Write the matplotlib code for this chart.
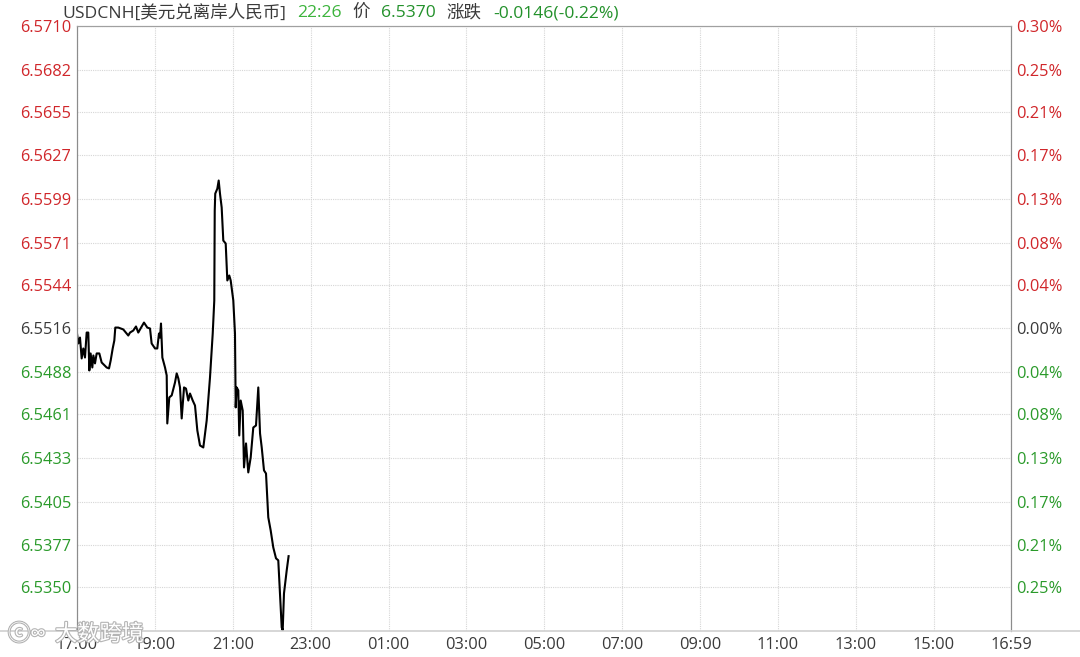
import numpy as np
import matplotlib.pyplot as plt
import matplotlib.patheffects as pe
from matplotlib.lines import Line2D

plt.rcParams['font.family'] = ['Open Sans', 'Noto Sans CJK SC', 'DejaVu Sans']

# minutes after 17:00, price
minutes = [0, 2, 4.6, 7.2, 9.7, 12.3, 14.9, 17.4, 19, 21, 23.6, 25.2, 27.7, 30.3, 34.4,
           38, 45.7, 49.3, 51.9, 55, 57.5, 59, 63.6, 71.3, 79, 81.7, 86.7, 90.9, 94.4,
           99.7, 103.2, 108.3, 112.5, 115, 120.2, 123.7, 126.3, 127.9, 129.4, 131.5,
           135.6, 138.2, 139.1, 142.2, 145.9, 151, 153.6, 156.1, 158.7, 161.3, 164.9,
           167.9, 171.5, 174.1, 178.3, 181.8, 185.4, 189.5, 194.6, 199.8, 204.9, 209.1,
           211.5, 212.2, 213, 216.2, 218.3, 220.3, 222.9, 225.4, 229.1, 231.6, 234.6,
           236.8, 240.8, 243.4, 244.5, 246, 248.5, 250, 252.2, 255.3, 257.3, 260.4,
           263.9, 267.6, 271.6, 275.8, 279.3, 282, 284.6, 288.1, 291.2, 294.7, 298.4,
           302.4, 306.6, 310.1, 315.4, 316.9, 318.9, 323.1, 326]
price = [6.55128, 6.55064, 6.55102, 6.54968, 6.55032, 6.54974, 6.55134, 6.55134, 6.54891,
         6.55000, 6.54910, 6.54987, 6.54936, 6.55000, 6.55000, 6.54942, 6.54910, 6.54904,
         6.54955, 6.55032, 6.55083, 6.55166, 6.55166, 6.55154, 6.55115, 6.55134, 6.55147,
         6.55173, 6.55134, 6.55173, 6.55198, 6.55166, 6.55160, 6.55064, 6.55032, 6.55032,
         6.55128, 6.55102, 6.55192, 6.54974, 6.54910, 6.54859, 6.54551, 6.54718, 6.54731,
         6.54814, 6.54872, 6.54840, 6.54782, 6.54583, 6.54782, 6.54775, 6.54698, 6.54743,
         6.54698, 6.54666, 6.54506, 6.54410, 6.54397, 6.54570, 6.54846, 6.55128, 6.55339,
         6.55916, 6.56025, 6.56057, 6.56109, 6.56025, 6.55936, 6.55724, 6.55705, 6.55468,
         6.55500, 6.55468, 6.55340, 6.55128, 6.54654, 6.54782, 6.54763, 6.54474, 6.54698,
         6.54634, 6.54269, 6.54423, 6.54237, 6.54333, 6.54525, 6.54538, 6.54782, 6.54487,
         6.54397, 6.54250, 6.54230, 6.53949, 6.53865, 6.53756, 6.53686, 6.53673, 6.53243,
         6.53224, 6.53461, 6.53609, 6.53700]

left_labels = ['6.5710', '6.5682', '6.5655', '6.5627', '6.5599', '6.5571', '6.5544',
               '6.5516', '6.5488', '6.5461', '6.5433', '6.5405', '6.5377', '6.5350']
right_labels = ['0.30%', '0.25%', '0.21%', '0.17%', '0.13%', '0.08%', '0.04%',
                '0.00%', '0.04%', '0.08%', '0.13%', '0.17%', '0.21%', '0.25%']
x_ticks = [0, 120, 240, 360, 480, 600, 720, 840, 960, 1080, 1200, 1320, 1439]
x_labels = ['17:00', '19:00', '21:00', '23:00', '01:00', '03:00', '05:00', '07:00',
            '09:00', '11:00', '13:00', '15:00', '16:59']

base = 6.5516
red = '#d0262a'
green = '#2a9a2a'
dark = '#3a3a3a'
fs = 11.8

fig = plt.figure(figsize=(10.8, 6.57), dpi=100)
ax = fig.add_axes([77 / 1080, 26 / 657, 934 / 1080, 605 / 657])
ax.plot(minutes, price, color='black', lw=1.5)
ax.set_xlim(0, 1439)
ax.set_ylim(6.5322, 6.5710)

yvals = [float(s) for s in left_labels]
ax.set_yticks(yvals)
ax.set_yticklabels(left_labels, fontsize=fs)
ax.set_xticks(x_ticks)
ax.set_xticklabels(x_labels, fontsize=fs, color=dark)
ax.tick_params(length=0, pad=4)
ax.grid(True, color='#d6d6d6', lw=0.8, ls=(0, (1, 1)))

for v, lab in zip(yvals, ax.get_yticklabels()):
    lab.set_color(red if v > base + 1e-4 else (green if v < base - 1e-4 else dark))

ax2 = ax.twinx()
ax2.set_ylim(ax.get_ylim())
ax2.set_yticks(yvals)
ax2.set_yticklabels(right_labels, fontsize=fs)
ax2.tick_params(length=0, pad=4)
for v, lab in zip(yvals, ax2.get_yticklabels()):
    lab.set_color(red if v > base + 1e-4 else (green if v < base - 1e-4 else dark))

for a in (ax, ax2):
    a.spines['bottom'].set_visible(False)
    a.spines['left'].set_color('#8c8c8c')
    a.spines['right'].set_color('#8c8c8c')
    a.spines['top'].set_color('#a0a0a0')

# bottom baseline across the full width
fig.add_artist(Line2D([0, 1], [26 / 657, 26 / 657], color='#d0d0d0', lw=1.2))

# title pieces
pieces = [('USDCNH[美元兑离岸人民币]', dark), ('22:26', '#3cb43c'), ('价', dark),
          ('6.5370', '#23912b'), ('涨跌', dark), ('-0.0146(-0.22%)', '#23912b')]
fig.canvas.draw()
r = fig.canvas.get_renderer()
xpos = 62
for txt, col in pieces:
    t = fig.text(xpos / 1080, 1 - 13 / 657, txt, color=col, fontsize=12.6,
                 va='center', ha='left')
    w = t.get_window_extent(renderer=r).width
    xpos += w + 11

# watermark
halo = [pe.withStroke(linewidth=1.6, foreground='#b4b4b4')]
fig.text(8 / 1080, 22 / 657, 'ⓒ∞', fontsize=16, color='white', va='center',
         ha='left', path_effects=halo)
fig.text(55 / 1080, 22 / 657, '大数跨境', fontsize=16, color='white', va='center',
         ha='left', path_effects=halo)

fig.savefig('out.png', dpi=100)
